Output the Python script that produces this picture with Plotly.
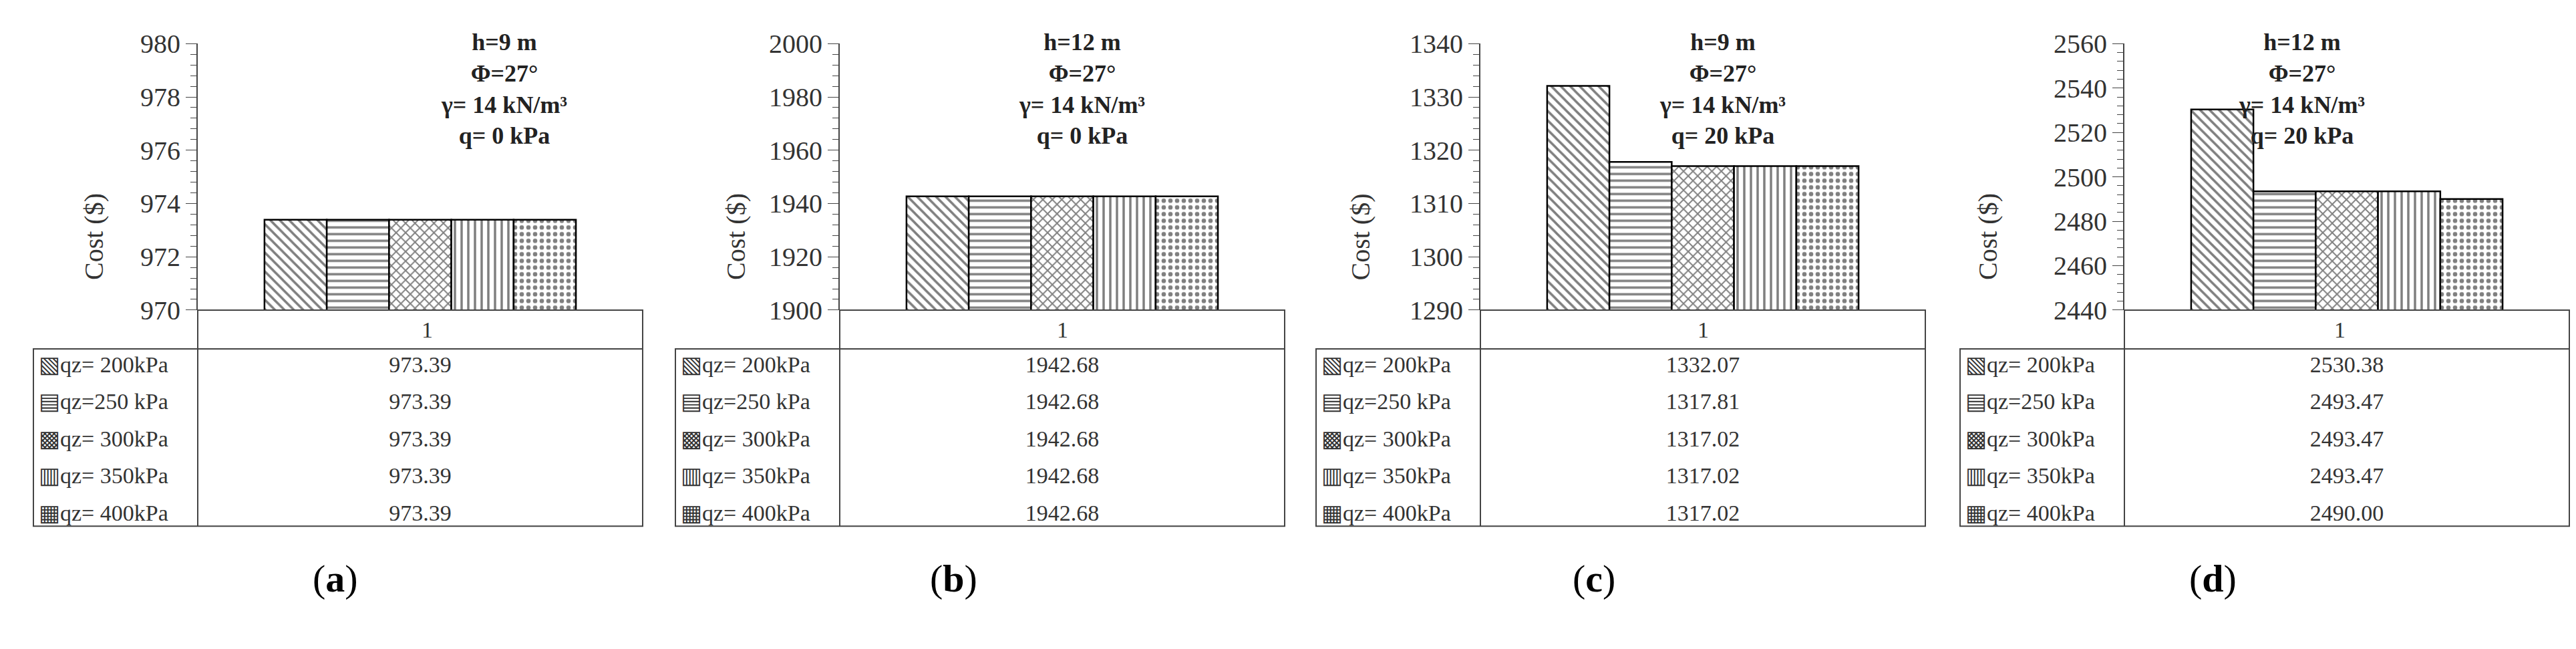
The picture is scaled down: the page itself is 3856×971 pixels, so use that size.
import plotly.graph_objects as go

# data
series_names = ["qz= 200kPa", "qz=250 kPa", "qz= 300kPa", "qz= 350kPa", "qz= 400kPa"]
legend_marks = ["▧", "▤", "▩", "▥", "▦"]
patterns = ["\\", "-", "x", "|", "."]
category = ["1"]

cost_a = [973.39, 973.39, 973.39, 973.39, 973.39]
cost_b = [1942.68, 1942.68, 1942.68, 1942.68, 1942.68]
cost_c = [1332.07, 1317.81, 1317.02, 1317.02, 1317.02]
cost_d = [2530.38, 2493.47, 2493.47, 2493.47, 2490.00]

ranges = [(970, 980, 2), (1900, 2000, 20), (1290, 1340, 10), (2440, 2560, 20)]
notes = [
    "h=9 m<br>Φ=27°<br>γ= 14 kN/m³<br>q= 0 kPa",
    "h=12 m<br>Φ=27°<br>γ= 14 kN/m³<br>q= 0 kPa",
    "h=9 m<br>Φ=27°<br>γ= 14 kN/m³<br>q= 20 kPa",
    "h=12 m<br>Φ=27°<br>γ= 14 kN/m³<br>q= 20 kPa",
]
panel_labels = ["a", "b", "c", "d"]
panels = [cost_a, cost_b, cost_c, cost_d]

W, H = 3856, 971
FONT = "Liberation Serif"
offsets = [0, 961, 1920, 2884]

# panel geometry in pixels (relative to panel offset)
AX_X, TAB_L, TAB_R = 288, 42, 954
PLOT_TOP, PLOT_BOT, HDR_BOT, TAB_BOT = 37, 455, 516, 794

fig = go.Figure()
layout = {}

def px_x(v):
    return v / W

def px_y(v):
    return 1 - v / H

for p, (vals, off) in enumerate(zip(panels, offsets)):
    ax = "" if p == 0 else str(p + 1)
    lo, hi, step = ranges[p]
    for i, name in enumerate(series_names):
        fig.add_trace(go.Bar(
            x=category, y=[vals[i]], name=name, showlegend=False,
            xaxis="x" + ax, yaxis="y" + ax,
            marker=dict(color="white", line=dict(color="black", width=2.5),
                        pattern=dict(shape=patterns[i], fgcolor="black",
                                     bgcolor="white", size=10, solidity=0.35)),
        ))
    layout["xaxis" + ax] = dict(domain=[px_x(off + AX_X), px_x(off + TAB_R)],
                                anchor="y" + ax, showticklabels=False,
                                showline=False, ticks="")
    layout["yaxis" + ax] = dict(
        domain=[px_y(PLOT_BOT), px_y(PLOT_TOP)], anchor="x" + ax, range=[lo, hi],
        dtick=step, tick0=lo, showgrid=False, showline=True, linecolor="#444",
        linewidth=2, ticks="outside", ticklen=16, tickcolor="#444",
        tickfont=dict(family=FONT, size=40, color="#333"),
        minor=dict(dtick=step / 5, ticks="outside", ticklen=9, tickcolor="#444"),
        zeroline=False,
    )
    # "1" header row of the data table
    fig.add_shape(type="rect", xref="paper", yref="paper",
                  x0=px_x(off + AX_X), x1=px_x(off + TAB_R), y0=px_y(HDR_BOT), y1=px_y(PLOT_BOT),
                  line=dict(color="#444", width=2))
    fig.add_annotation(x=px_x(off + (AX_X + TAB_R) / 2), y=px_y((PLOT_BOT + HDR_BOT) / 2),
                       xref="paper", yref="paper", text="1", showarrow=False,
                       font=dict(family=FONT, size=34, color="#333"))
    # data table
    fig.add_trace(go.Table(
        domain=dict(x=[px_x(off + TAB_L), px_x(off + TAB_R)], y=[px_y(TAB_BOT), px_y(HDR_BOT)]),
        columnwidth=[AX_X - TAB_L, TAB_R - AX_X],
        header=dict(values=["", ""], height=1, line=dict(color="#444", width=0),
                    fill=dict(color="white"), font=dict(size=1)),
        cells=dict(
            values=[[m + n for m, n in zip(legend_marks, series_names)],
                    ["%.2f" % v for v in vals]],
            align=["left", "center"], height=(TAB_BOT - HDR_BOT) / 5,
            line=dict(color="#444", width=0), fill=dict(color="white"),
            font=dict(family=FONT, size=34, color="#333"),
        ),
    ))
    fig.add_shape(type="rect", xref="paper", yref="paper",
                  x0=px_x(off + TAB_L), x1=px_x(off + TAB_R), y0=px_y(TAB_BOT), y1=px_y(HDR_BOT),
                  line=dict(color="#444", width=2))
    fig.add_shape(type="line", xref="paper", yref="paper",
                  x0=px_x(off + AX_X), x1=px_x(off + AX_X), y0=px_y(TAB_BOT), y1=px_y(HDR_BOT),
                  line=dict(color="#444", width=2))
    # condition note, axis title, panel label
    fig.add_annotation(x=px_x(off + 650), y=px_y(12), xref="paper", yref="paper",
                       text="<b>" + notes[p] + "</b>", showarrow=False, yanchor="top",
                       font=dict(family=FONT, size=36, color="#222"))
    fig.add_annotation(x=px_x(off + 108), y=px_y(270), xref="paper", yref="paper",
                       text="Cost ($)", textangle=-90, showarrow=False,
                       font=dict(family=FONT, size=40, color="#333"))
    fig.add_annotation(x=px_x(off + 458), y=px_y(912), xref="paper", yref="paper",
                       text="(<b>" + panel_labels[p] + "</b>)", showarrow=False,
                       font=dict(family=FONT, size=58, color="black"))

fig.update_layout(
    width=W, height=H, margin=dict(l=0, r=0, t=0, b=0),
    barmode="group", bargap=0.3, bargroupgap=0,
    plot_bgcolor="white", paper_bgcolor="white", **layout,
)
fig.write_html("out.html")
